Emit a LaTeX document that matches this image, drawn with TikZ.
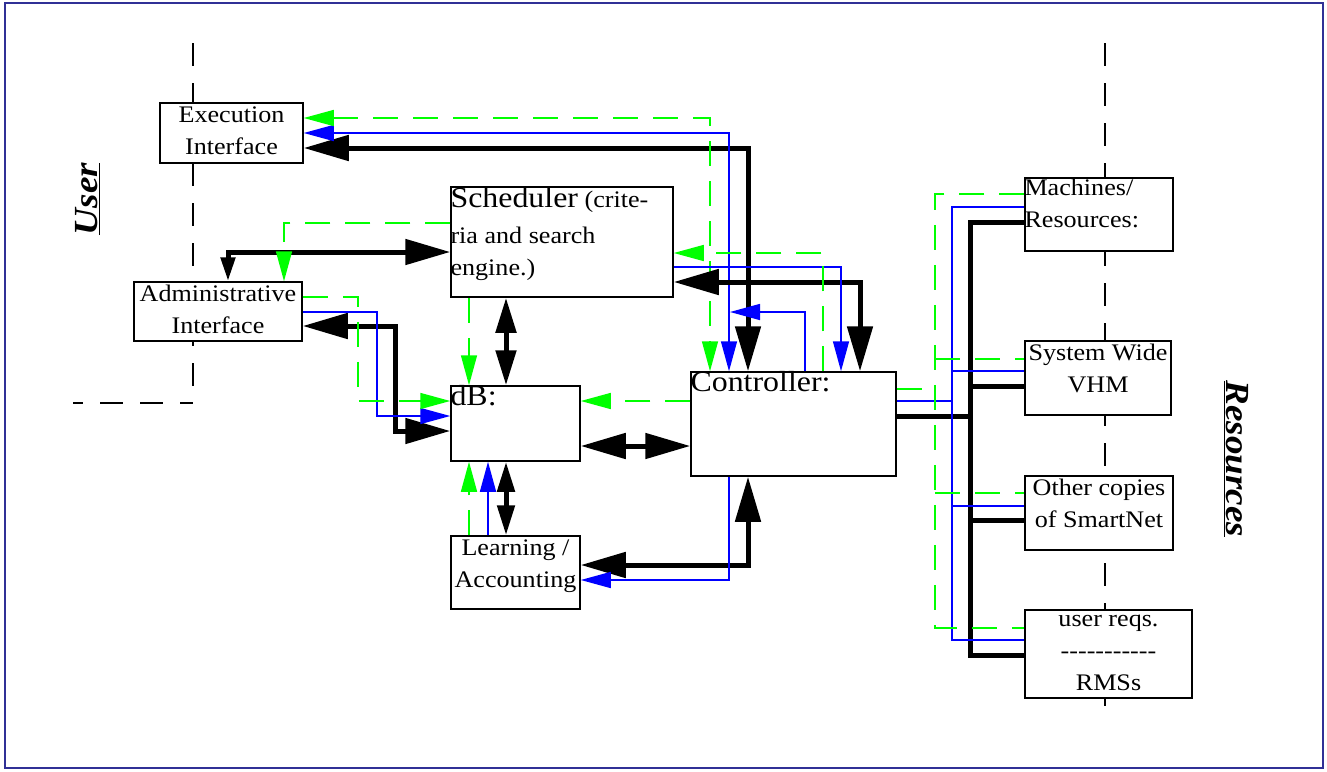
\documentclass[tikz,border=0pt]{standalone}
\usepackage{fontspec}
\setmainfont{Liberation Serif}[FakeStretch=1.1]
\usetikzlibrary{arrows.meta}

\newdimen\pxu \pxu=0.75pt
\definecolor{framenavy}{RGB}{48,48,150}
\definecolor{pathgreen}{RGB}{0,255,0}
\definecolor{pathblue}{RGB}{0,0,255}
\newcommand\boxfont{\fontsize{17.8}{24}\selectfont}
\newcommand\headfont{\fontsize{21.75}{26}\selectfont}
\newcommand\sidefont{\fontsize{25.3}{30}\selectfont\bfseries\itshape}

\tikzset{
  unitbox/.style={draw, line width=1.5\pxu, fill=white, inner sep=0pt},
  toptxt/.style={anchor=north, inner sep=0pt, align=center, font=\boxfont, yshift=-4\pxu},
  cornertxt/.style={anchor=north west, inner sep=0pt, align=left, font=\boxfont},
  greenpath/.style={draw=pathgreen, line width=1.5\pxu, dash pattern=on 25\pxu off 15\pxu},
  bluepath/.style={draw=pathblue, line width=1.5\pxu},
  blackpath/.style={draw=black, line width=5\pxu},
  guide/.style={draw=black, line width=1.5\pxu, dash pattern=on 23\pxu off 17\pxu},
  Kbig/.tip={Triangle[length=33.75pt, width=18.75pt]},
  Kmid/.tip={Triangle[length=26.25pt, width=15pt]},
  Ksml/.tip={Triangle[length=22.5pt, width=12.75pt]},
  Kmin/.tip={Triangle[length=18pt, width=10.5pt]},
  Ctip/.tip={Triangle[length=22.5pt, width=12pt]}
}

\begin{document}
\begin{tikzpicture}[x=0.75pt, y=-0.75pt]
    \useasboundingbox (0,0) rectangle (1327,771);
    \draw[framenavy, line width=2\pxu] (5,3) rectangle (1323,768);

    % user / resources borders
    \draw[guide] (193,43) -- (193,403);
    \draw[guide, dash phase=13\pxu] (73,403) -- (193,403);
    \draw[guide] (1105,43) -- (1105,716);
    \node[font=\sidefont, rotate=90, inner sep=0pt] (user) at (88,199) {\underline{User}};
    \node[font=\sidefont, rotate=-90, inner sep=0pt] (resources) at (1236,459) {\underline{Resources}};

    % boxes
    \node[unitbox, minimum width=143\pxu, minimum height=60\pxu] (exec) at (231.5,133) {};
    \node[unitbox, minimum width=168\pxu, minimum height=59\pxu] (admin) at (218,311.5) {};
    \node[unitbox, minimum width=222\pxu, minimum height=110\pxu] (sched) at (562,242) {};
    \node[unitbox, minimum width=129\pxu, minimum height=75\pxu] (db) at (515.5,423.5) {};
    \node[unitbox, minimum width=129\pxu, minimum height=73\pxu] (learn) at (515.5,572.5) {};
    \node[unitbox, minimum width=205\pxu, minimum height=104\pxu] (ctrl) at (793.5,424) {};
    \node[unitbox, minimum width=148\pxu, minimum height=73\pxu] (mach) at (1099,214.5) {};
    \node[unitbox, minimum width=146\pxu, minimum height=74\pxu] (vhm) at (1098,378) {};
    \node[unitbox, minimum width=148\pxu, minimum height=74\pxu] (other) at (1099,513) {};
    \node[unitbox, minimum width=167\pxu, minimum height=88\pxu] (rms) at (1108.5,654) {};

    \node[toptxt] (exectxt) at (exec.north) {Execution\\Interface};
    \node[toptxt] (admintxt) at (admin.north) {Administrative\\Interface};
    \node[cornertxt, yshift=-1\pxu] (schedtxt) at (sched.north west) {{\headfont Scheduler} (crite-\\[4\pxu]ria and search\\engine.)};
    \node[cornertxt, font=\headfont] (dbtxt) at (db.north west) {dB:};
    \node[toptxt] (learntxt) at (learn.north) {Learning /\\Accounting};
    \node[cornertxt, font=\headfont] (ctrltxt) at (ctrl.north west) {Controller:};
    \node[cornertxt, yshift=-2\pxu] (machtxt) at (mach.north west) {Machines/\\Resources:};
    \node[toptxt] (vhmtxt) at (vhm.north) {System Wide\\VHM};
    \node[toptxt] (othertxt) at (other.north) {Other copies\\of SmartNet};
    \node[toptxt, yshift=-2\pxu] (rmstxt) at (rms.north) {user reqs.\\-{}-{}-{}-{}-{}-{}-{}-{}-{}-{}-\\RMSs};

    % execution interface <-> controller
    \draw[blackpath, Kbig-Kbig] (exec.east |- 0,148) -| (ctrl.north -| 748,0);
    \draw[bluepath, Ctip-Ctip] (exec.east |- 0,133) -| (ctrl.north -| 729,0);
    \draw[greenpath, Ctip-Ctip] (exec.east |- 0,118) -| (ctrl.north -| 710,0);

    % scheduler links
    \draw[blackpath, Kmin-Kbig] (admin.north -| 228,0) |- (sched.west |- 0,252);
    \draw[greenpath, -Ctip] (sched.west |- 0,223) -| (admin.north -| 284,0);
    \draw[blackpath, Kbig-Kbig] (sched.east |- 0,282) -| (ctrl.north -| 860,0);
    \draw[bluepath, -Ctip] (sched.east |- 0,267) -| (ctrl.north -| 841,0);
    \draw[greenpath, -Ctip] (ctrl.north -| 823,0) |- (sched.east |- 0,253);
    \coordinate (bluejoin) at (730,312);
    \draw[bluepath, -Ctip] (ctrl.north -| 805,0) |- (bluejoin);
    \draw[blackpath, Kmid-Kmid] (sched.south -| 506,0) -- (db.north -| 506,0);
    \draw[greenpath, -Ctip] (sched.south -| 469,0) -- (db.north -| 469,0);

    % administrative interface <-> dB
    \draw[blackpath, Kbig-Kbig] (db.west |- 0,431) -| (395,380) |- (admin.east |- 0,326);
    \draw[bluepath, -Ctip] (admin.east |- 0,312) -| (377,350) |- (db.west |- 0,416);
    \draw[greenpath, -Ctip] (admin.east |- 0,297) -| (358,350) |- (db.west |- 0,401);

    % dB <-> controller, learning
    \draw[blackpath, Kbig-Kbig] (db.east |- 0,446) -- (ctrl.west |- 0,446);
    \draw[greenpath, -Ctip] (ctrl.west |- 0,401) -- (db.east |- 0,401);
    \draw[blackpath, Ksml-Ksml] (learn.north -| 506,0) -- (db.south -| 506,0);
    \draw[bluepath, -Ctip] (learn.north -| 488,0) -- (db.south -| 488,0);
    \draw[greenpath, -Ctip] (learn.north -| 469,0) -- (db.south -| 469,0);

    % learning <-> controller
    \draw[blackpath, Kbig-Kbig] (learn.east |- 0,565) -| (ctrl.south -| 748,0);
    \draw[bluepath, -Ctip] (ctrl.south -| 729,0) |- (learn.east |- 0,580);

    % controller to the resources
    \draw[blackpath] (ctrl.east |- 0,416) -- (970,416);
    \draw[blackpath] (mach.west |- 0,222) -| (970,655) -- (rms.west |- 0,655);
    \draw[blackpath] (970,386) -- (vhm.west |- 0,386);
    \draw[blackpath] (970,520) -- (other.west |- 0,520);
    \draw[bluepath] (ctrl.east |- 0,401) -- (952,401);
    \draw[bluepath] (mach.west |- 0,207) -| (952,640) -- (rms.west |- 0,640);
    \draw[bluepath] (952,371) -- (vhm.west |- 0,371);
    \draw[bluepath] (952,506) -- (other.west |- 0,506);
    \draw[greenpath] (ctrl.east |- 0,389) -- (935,389);
    \draw[greenpath] (mach.west |- 0,194) -| (935,628) -- (rms.west |- 0,628);
    \draw[greenpath] (935,359) -- (vhm.west |- 0,359);
    \draw[greenpath] (935,493) -- (other.west |- 0,493);
\end{tikzpicture}
\end{document}
